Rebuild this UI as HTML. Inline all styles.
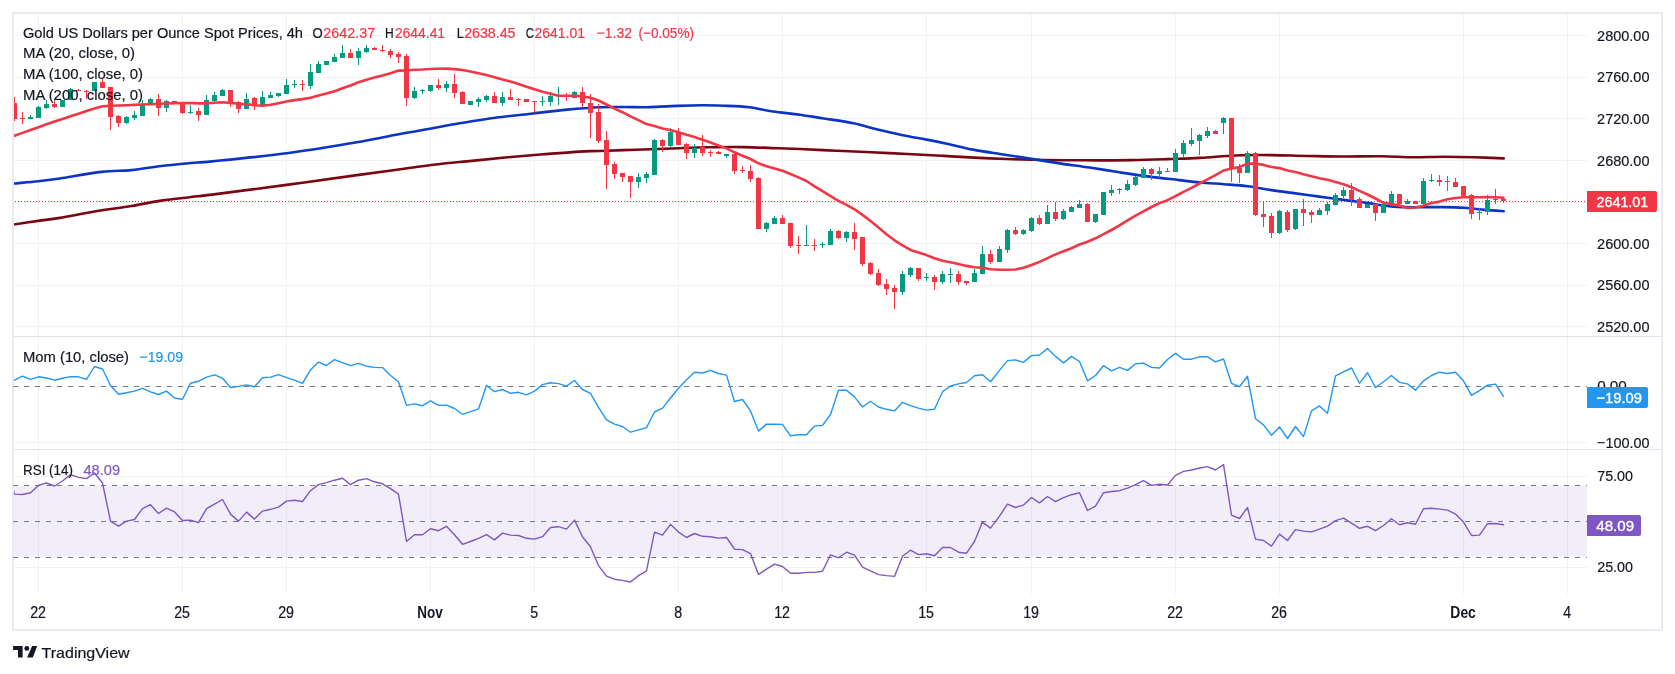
<!DOCTYPE html><html><head><meta charset="utf-8"><title>Gold chart</title><style>html,body{margin:0;padding:0;background:#fff;width:1675px;height:674px;overflow:hidden;position:relative;font-family:"Liberation Sans",sans-serif}</style></head><body><svg width="1675" height="674" viewBox="0 0 1675 674" style="position:absolute;left:0;top:0;will-change:transform">
<rect x="0" y="0" width="1675" height="674" fill="#ffffff"/>
<g fill="#f1f2f4"><rect x="14" y="326" width="1573" height="1"/><rect x="14" y="285" width="1573" height="1"/><rect x="14" y="243" width="1573" height="1"/><rect x="14" y="202" width="1573" height="1"/><rect x="14" y="160" width="1573" height="1"/><rect x="14" y="118" width="1573" height="1"/><rect x="14" y="77" width="1573" height="1"/><rect x="14" y="35" width="1573" height="1"/><rect x="14" y="386" width="1573" height="1"/><rect x="14" y="442" width="1573" height="1"/><rect x="14" y="476" width="1573" height="1"/><rect x="14" y="567" width="1573" height="1"/><rect x="38" y="14" width="1" height="580"/><rect x="182" y="14" width="1" height="580"/><rect x="286" y="14" width="1" height="580"/><rect x="430" y="14" width="1" height="580"/><rect x="534" y="14" width="1" height="580"/><rect x="678" y="14" width="1" height="580"/><rect x="782" y="14" width="1" height="580"/><rect x="926" y="14" width="1" height="580"/><rect x="1031" y="14" width="1" height="580"/><rect x="1175" y="14" width="1" height="580"/><rect x="1279" y="14" width="1" height="580"/><rect x="1463" y="14" width="1" height="580"/><rect x="1567" y="14" width="1" height="580"/></g>
<rect x="14" y="485.5" width="1573" height="72" fill="#7e57c2" fill-opacity="0.1"/>
<g fill="#e0e3eb"><rect x="12" y="12" width="1651" height="2" fill="#e9ebf0"/><rect x="12" y="629" width="1651" height="2" fill="#e9ebf0"/><rect x="12" y="12" width="2" height="619" fill="#e9ebf0"/><rect x="1661" y="12" width="2" height="619" fill="#e9ebf0"/><rect x="14" y="336" width="1647" height="1"/><rect x="14" y="449" width="1647" height="1"/></g>
<line x1="13" y1="386.5" x2="1587" y2="386.5" stroke="#787b86" stroke-width="1" stroke-dasharray="5 6"/>
<line x1="13" y1="485.5" x2="1587" y2="485.5" stroke="#787b86" stroke-width="1" stroke-dasharray="5 6"/>
<line x1="13" y1="521.5" x2="1587" y2="521.5" stroke="#787b86" stroke-width="1" stroke-dasharray="5 6"/>
<line x1="13" y1="557.5" x2="1587" y2="557.5" stroke="#787b86" stroke-width="1" stroke-dasharray="5 6"/>
<line x1="14" y1="201.5" x2="1587" y2="201.5" stroke="#f23645" stroke-width="1" stroke-dasharray="1 2" stroke-dashoffset="2"/>
<defs><clipPath id="cm"><rect x="14" y="14" width="1573" height="322"/></clipPath><clipPath id="cp"><rect x="14" y="337" width="1573" height="112"/></clipPath><clipPath id="cr"><rect x="14" y="450" width="1573" height="144"/></clipPath></defs>
<g clip-path="url(#cm)">
<path d="M13.8,224.5 C17.9,223.9 30.6,222.0 38.3,220.9 C46.0,219.8 50.2,219.5 59.8,217.9 C69.3,216.3 83.7,213.3 95.6,211.3 C107.5,209.3 120.5,207.8 131.4,206.0 C142.4,204.2 151.4,202.1 161.3,200.6 C171.2,199.1 182.7,198.0 191.1,197.0 C199.5,196.0 196.1,196.6 212.0,194.6 C227.9,192.6 262.7,188.1 286.6,184.9 C310.5,181.7 336.3,178.0 355.2,175.4 C374.1,172.8 386.6,171.1 400.0,169.3 C413.4,167.5 423.9,165.9 435.8,164.5 C447.7,163.1 459.7,162.1 471.6,160.9 C483.6,159.7 495.6,158.4 507.5,157.3 C519.5,156.2 531.4,155.2 543.3,154.3 C555.2,153.4 569.6,152.2 579.1,151.6 C588.6,151.0 590.5,151.3 600.0,151.0 C609.5,150.7 623.9,150.1 635.8,149.7 C647.7,149.3 659.6,148.9 671.6,148.5 C683.6,148.1 695.5,147.5 707.5,147.3 C719.5,147.1 731.4,146.9 743.3,147.1 C755.2,147.3 769.6,148.0 779.1,148.3 C788.6,148.6 790.5,148.6 800.0,149.0 C809.5,149.4 823.9,150.2 835.8,150.7 C847.7,151.2 859.6,151.6 871.6,152.2 C883.6,152.8 895.5,153.4 907.5,154.0 C919.5,154.6 931.4,155.2 943.3,155.9 C955.2,156.6 969.6,157.4 979.1,157.9 C988.6,158.4 990.5,158.5 1000.0,158.8 C1009.5,159.1 1021.9,159.6 1035.8,159.8 C1049.7,160.1 1067.7,160.2 1083.6,160.3 C1099.5,160.4 1117.4,160.3 1131.3,160.1 C1145.2,159.9 1155.8,159.5 1167.2,159.1 C1178.7,158.7 1188.6,158.5 1200.0,157.9 C1211.4,157.3 1223.9,156.0 1235.8,155.5 C1247.7,155.0 1259.6,155.0 1271.6,155.1 C1283.5,155.2 1295.5,155.8 1307.5,156.0 C1319.5,156.2 1331.0,156.5 1343.3,156.5 C1355.6,156.5 1369.7,156.1 1381.2,156.2 C1392.7,156.3 1401.9,157.2 1412.3,157.3 C1422.7,157.4 1433.1,156.8 1443.5,156.8 C1453.9,156.8 1464.6,157.0 1474.6,157.3 C1484.6,157.6 1498.8,158.2 1503.7,158.4" fill="none" stroke="#7a0612" stroke-width="2.6" stroke-linejoin="round" stroke-linecap="round"/>
<path d="M13.8,183.5 C17.9,183.1 30.6,182.1 38.3,181.3 C46.0,180.5 49.2,180.1 59.8,178.5 C70.3,176.9 89.7,173.3 101.6,171.9 C113.5,170.5 121.5,171.1 131.4,170.1 C141.4,169.1 151.4,167.2 161.3,166.0 C171.2,164.8 182.7,163.8 191.1,163.0 C199.5,162.2 196.1,163.0 212.0,161.4 C227.9,159.8 262.7,156.5 286.6,153.3 C310.5,150.2 336.3,145.7 355.2,142.5 C374.1,139.3 387.6,136.3 400.0,134.0 C412.4,131.7 419.9,130.5 429.9,128.7 C439.8,126.9 448.8,125.1 459.7,123.3 C470.6,121.5 483.6,119.3 495.5,117.7 C507.4,116.1 519.3,115.1 531.3,113.7 C543.2,112.3 555.8,110.7 567.2,109.6 C578.7,108.5 590.5,107.6 600.0,107.2 C609.5,106.8 615.9,107.0 623.9,107.0 C631.9,107.0 639.8,107.4 647.8,107.2 C655.8,107.0 662.6,106.4 671.6,106.1 C680.6,105.8 692.5,105.3 701.5,105.3 C710.5,105.2 717.4,105.5 725.4,105.8 C733.4,106.1 741.3,106.3 749.3,107.3 C757.2,108.2 764.6,110.3 773.1,111.5 C781.6,112.7 791.5,113.5 800.0,114.7 C808.5,115.9 814.9,117.1 823.9,118.5 C832.9,119.9 844.8,121.5 853.7,123.3 C862.7,125.1 869.6,127.7 877.6,129.6 C885.6,131.5 893.5,133.3 901.5,134.9 C909.5,136.5 917.4,137.9 925.4,139.4 C933.4,140.9 941.3,142.5 949.3,144.2 C957.2,145.9 964.6,148.0 973.1,149.6 C981.6,151.2 990.5,152.5 1000.0,154.0 C1009.5,155.5 1020.0,157.0 1029.9,158.6 C1039.9,160.2 1049.8,161.9 1059.7,163.4 C1069.7,164.9 1079.6,166.0 1089.6,167.5 C1099.5,169.0 1109.5,170.8 1119.4,172.3 C1129.4,173.8 1139.3,175.3 1149.3,176.6 C1159.2,177.9 1170.6,179.1 1179.1,180.1 C1187.5,181.1 1192.5,181.8 1200.0,182.5 C1207.5,183.2 1215.9,183.6 1223.9,184.2 C1231.9,184.8 1239.8,185.2 1247.8,186.2 C1255.8,187.2 1263.6,188.9 1271.6,190.1 C1279.5,191.3 1287.5,192.3 1295.5,193.4 C1303.5,194.5 1311.4,195.5 1319.4,196.6 C1327.4,197.7 1335.3,198.8 1343.3,199.9 C1351.3,201.0 1360.9,202.0 1367.2,202.9 C1373.5,203.8 1375.4,204.5 1381.2,205.2 C1387.0,205.9 1391.5,206.8 1401.9,207.1 C1412.3,207.4 1433.1,207.0 1443.5,207.1 C1453.9,207.2 1457.3,207.3 1464.2,207.8 C1471.1,208.3 1478.4,209.3 1485.0,209.9 C1491.6,210.5 1500.6,211.0 1503.7,211.2" fill="none" stroke="#0a34c4" stroke-width="2.6" stroke-linejoin="round" stroke-linecap="round"/>
<g fill="#089981" shape-rendering="crispEdges"><rect x="30" y="115" width="1" height="4"/><rect x="28" y="117" width="5" height="2"/><rect x="38" y="106" width="1" height="12"/><rect x="36" y="107" width="5" height="11"/><rect x="46" y="100" width="1" height="9"/><rect x="44" y="104" width="5" height="4"/><rect x="62" y="100" width="1" height="7"/><rect x="60" y="100" width="5" height="7"/><rect x="70" y="88" width="1" height="12"/><rect x="68" y="89" width="5" height="11"/><rect x="94" y="82" width="1" height="9"/><rect x="92" y="82" width="5" height="9"/><rect x="126" y="116" width="1" height="8"/><rect x="124" y="117" width="5" height="6"/><rect x="134" y="111" width="1" height="9"/><rect x="132" y="115" width="5" height="3"/><rect x="142" y="100" width="1" height="16"/><rect x="140" y="104" width="5" height="12"/><rect x="150" y="98" width="1" height="7"/><rect x="148" y="99" width="5" height="6"/><rect x="166" y="100" width="1" height="12"/><rect x="164" y="101" width="5" height="7"/><rect x="190" y="105" width="1" height="9"/><rect x="188" y="112" width="5" height="1"/><rect x="206" y="95" width="1" height="20"/><rect x="204" y="100" width="5" height="15"/><rect x="214" y="92" width="1" height="12"/><rect x="212" y="95" width="5" height="6"/><rect x="222" y="89" width="1" height="7"/><rect x="220" y="90" width="5" height="6"/><rect x="246" y="93" width="1" height="16"/><rect x="244" y="99" width="5" height="10"/><rect x="262" y="91" width="1" height="15"/><rect x="260" y="97" width="5" height="9"/><rect x="270" y="92" width="1" height="6"/><rect x="268" y="95" width="5" height="3"/><rect x="278" y="93" width="1" height="4"/><rect x="276" y="93" width="5" height="3"/><rect x="286" y="79" width="1" height="15"/><rect x="284" y="85" width="5" height="9"/><rect x="294" y="80" width="1" height="8"/><rect x="292" y="84" width="5" height="1"/><rect x="310" y="64" width="1" height="25"/><rect x="308" y="72" width="5" height="14"/><rect x="318" y="61" width="1" height="12"/><rect x="316" y="64" width="5" height="9"/><rect x="326" y="61" width="1" height="4"/><rect x="324" y="61" width="5" height="4"/><rect x="334" y="54" width="1" height="8"/><rect x="332" y="57" width="5" height="5"/><rect x="342" y="45" width="1" height="13"/><rect x="340" y="53" width="5" height="5"/><rect x="358" y="48" width="1" height="17"/><rect x="356" y="51" width="5" height="7"/><rect x="366" y="45" width="1" height="8"/><rect x="364" y="48" width="5" height="4"/><rect x="414" y="87" width="1" height="12"/><rect x="412" y="91" width="5" height="7"/><rect x="422" y="89" width="1" height="5"/><rect x="420" y="90" width="5" height="1"/><rect x="430" y="85" width="1" height="7"/><rect x="428" y="85" width="5" height="6"/><rect x="446" y="81" width="1" height="11"/><rect x="444" y="84" width="5" height="4"/><rect x="470" y="101" width="1" height="4"/><rect x="468" y="101" width="5" height="4"/><rect x="478" y="97" width="1" height="10"/><rect x="476" y="99" width="5" height="3"/><rect x="486" y="95" width="1" height="7"/><rect x="484" y="96" width="5" height="4"/><rect x="502" y="92" width="1" height="14"/><rect x="500" y="97" width="5" height="6"/><rect x="542" y="96" width="1" height="10"/><rect x="540" y="101" width="5" height="1"/><rect x="550" y="92" width="1" height="14"/><rect x="548" y="96" width="5" height="6"/><rect x="558" y="87" width="1" height="18"/><rect x="556" y="95" width="5" height="1"/><rect x="574" y="91" width="1" height="7"/><rect x="572" y="92" width="5" height="6"/><rect x="638" y="173" width="1" height="15"/><rect x="636" y="177" width="5" height="5"/><rect x="646" y="172" width="1" height="11"/><rect x="644" y="174" width="5" height="4"/><rect x="654" y="139" width="1" height="36"/><rect x="652" y="140" width="5" height="35"/><rect x="670" y="128" width="1" height="19"/><rect x="668" y="132" width="5" height="14"/><rect x="694" y="144" width="1" height="14"/><rect x="692" y="148" width="5" height="5"/><rect x="726" y="154" width="1" height="4"/><rect x="724" y="154" width="5" height="2"/><rect x="766" y="222" width="1" height="10"/><rect x="764" y="223" width="5" height="6"/><rect x="774" y="216" width="1" height="8"/><rect x="772" y="218" width="5" height="6"/><rect x="806" y="225" width="1" height="21"/><rect x="804" y="245" width="5" height="1"/><rect x="822" y="242" width="1" height="6"/><rect x="820" y="244" width="5" height="1"/><rect x="830" y="229" width="1" height="16"/><rect x="828" y="231" width="5" height="14"/><rect x="846" y="231" width="1" height="11"/><rect x="844" y="232" width="5" height="6"/><rect x="902" y="271" width="1" height="24"/><rect x="900" y="274" width="5" height="18"/><rect x="910" y="267" width="1" height="10"/><rect x="908" y="268" width="5" height="7"/><rect x="926" y="273" width="1" height="8"/><rect x="924" y="277" width="5" height="1"/><rect x="942" y="271" width="1" height="13"/><rect x="940" y="274" width="5" height="8"/><rect x="950" y="268" width="1" height="15"/><rect x="948" y="274" width="5" height="1"/><rect x="974" y="269" width="1" height="13"/><rect x="972" y="273" width="5" height="9"/><rect x="982" y="246" width="1" height="28"/><rect x="980" y="254" width="5" height="20"/><rect x="999" y="246" width="1" height="16"/><rect x="997" y="249" width="5" height="13"/><rect x="1007" y="229" width="1" height="24"/><rect x="1005" y="230" width="5" height="20"/><rect x="1023" y="229" width="1" height="6"/><rect x="1021" y="230" width="5" height="4"/><rect x="1031" y="217" width="1" height="15"/><rect x="1029" y="218" width="5" height="13"/><rect x="1047" y="205" width="1" height="19"/><rect x="1045" y="212" width="5" height="12"/><rect x="1063" y="209" width="1" height="11"/><rect x="1061" y="211" width="5" height="8"/><rect x="1071" y="206" width="1" height="6"/><rect x="1069" y="207" width="5" height="5"/><rect x="1079" y="200" width="1" height="8"/><rect x="1077" y="204" width="5" height="4"/><rect x="1095" y="214" width="1" height="9"/><rect x="1093" y="214" width="5" height="8"/><rect x="1103" y="192" width="1" height="23"/><rect x="1101" y="192" width="5" height="23"/><rect x="1111" y="185" width="1" height="11"/><rect x="1109" y="190" width="5" height="3"/><rect x="1119" y="188" width="1" height="6"/><rect x="1117" y="189" width="5" height="1"/><rect x="1127" y="180" width="1" height="11"/><rect x="1125" y="184" width="5" height="6"/><rect x="1135" y="176" width="1" height="10"/><rect x="1133" y="177" width="5" height="8"/><rect x="1143" y="167" width="1" height="11"/><rect x="1141" y="169" width="5" height="9"/><rect x="1159" y="167" width="1" height="11"/><rect x="1157" y="171" width="5" height="3"/><rect x="1175" y="149" width="1" height="23"/><rect x="1173" y="153" width="5" height="19"/><rect x="1183" y="140" width="1" height="17"/><rect x="1181" y="143" width="5" height="11"/><rect x="1191" y="128" width="1" height="18"/><rect x="1189" y="140" width="5" height="4"/><rect x="1199" y="134" width="1" height="21"/><rect x="1197" y="135" width="5" height="6"/><rect x="1207" y="127" width="1" height="11"/><rect x="1205" y="131" width="5" height="5"/><rect x="1223" y="117" width="1" height="17"/><rect x="1221" y="118" width="5" height="5"/><rect x="1247" y="151" width="1" height="22"/><rect x="1245" y="153" width="5" height="20"/><rect x="1279" y="210" width="1" height="24"/><rect x="1277" y="211" width="5" height="22"/><rect x="1295" y="209" width="1" height="21"/><rect x="1293" y="209" width="5" height="20"/><rect x="1319" y="208" width="1" height="7"/><rect x="1317" y="210" width="5" height="5"/><rect x="1327" y="202" width="1" height="13"/><rect x="1325" y="204" width="5" height="7"/><rect x="1335" y="193" width="1" height="12"/><rect x="1333" y="195" width="5" height="10"/><rect x="1343" y="187" width="1" height="11"/><rect x="1341" y="190" width="5" height="6"/><rect x="1367" y="204" width="1" height="4"/><rect x="1365" y="204" width="5" height="4"/><rect x="1383" y="202" width="1" height="11"/><rect x="1381" y="204" width="5" height="9"/><rect x="1391" y="191" width="1" height="15"/><rect x="1389" y="194" width="5" height="11"/><rect x="1407" y="199" width="1" height="5"/><rect x="1405" y="201" width="5" height="3"/><rect x="1423" y="178" width="1" height="29"/><rect x="1421" y="181" width="5" height="23"/><rect x="1431" y="174" width="1" height="8"/><rect x="1429" y="180" width="5" height="1"/><rect x="1479" y="208" width="1" height="12"/><rect x="1477" y="212" width="5" height="1"/><rect x="1487" y="195" width="1" height="20"/><rect x="1485" y="200" width="5" height="12"/><rect x="1495" y="189" width="1" height="15"/><rect x="1493" y="199" width="5" height="1"/></g>
<g fill="#f23645" shape-rendering="crispEdges"><rect x="14" y="97" width="1" height="24"/><rect x="12" y="103" width="5" height="16"/><rect x="22" y="112" width="1" height="12"/><rect x="20" y="118" width="5" height="1"/><rect x="54" y="100" width="1" height="8"/><rect x="52" y="104" width="5" height="3"/><rect x="78" y="89" width="1" height="2"/><rect x="76" y="90" width="5" height="1"/><rect x="86" y="90" width="1" height="9"/><rect x="84" y="91" width="5" height="1"/><rect x="102" y="79" width="1" height="9"/><rect x="100" y="82" width="5" height="6"/><rect x="110" y="87" width="1" height="43"/><rect x="108" y="87" width="5" height="30"/><rect x="118" y="115" width="1" height="12"/><rect x="116" y="116" width="5" height="7"/><rect x="158" y="94" width="1" height="22"/><rect x="156" y="99" width="5" height="9"/><rect x="174" y="101" width="1" height="2"/><rect x="172" y="101" width="5" height="2"/><rect x="182" y="102" width="1" height="12"/><rect x="180" y="103" width="5" height="10"/><rect x="198" y="108" width="1" height="13"/><rect x="196" y="111" width="5" height="4"/><rect x="230" y="90" width="1" height="17"/><rect x="228" y="90" width="5" height="12"/><rect x="238" y="101" width="1" height="12"/><rect x="236" y="102" width="5" height="7"/><rect x="254" y="97" width="1" height="13"/><rect x="252" y="98" width="5" height="7"/><rect x="302" y="80" width="1" height="11"/><rect x="300" y="84" width="5" height="1"/><rect x="350" y="49" width="1" height="9"/><rect x="348" y="53" width="5" height="5"/><rect x="374" y="47" width="1" height="3"/><rect x="372" y="48" width="5" height="2"/><rect x="382" y="45" width="1" height="7"/><rect x="380" y="50" width="5" height="1"/><rect x="390" y="49" width="1" height="9"/><rect x="388" y="51" width="5" height="4"/><rect x="398" y="52" width="1" height="11"/><rect x="396" y="54" width="5" height="3"/><rect x="406" y="54" width="1" height="52"/><rect x="404" y="56" width="5" height="42"/><rect x="438" y="79" width="1" height="11"/><rect x="436" y="85" width="5" height="3"/><rect x="454" y="74" width="1" height="24"/><rect x="452" y="84" width="5" height="9"/><rect x="462" y="91" width="1" height="13"/><rect x="460" y="92" width="5" height="12"/><rect x="494" y="92" width="1" height="11"/><rect x="492" y="96" width="5" height="7"/><rect x="510" y="89" width="1" height="11"/><rect x="508" y="97" width="5" height="3"/><rect x="518" y="98" width="1" height="8"/><rect x="516" y="99" width="5" height="1"/><rect x="526" y="99" width="1" height="3"/><rect x="524" y="99" width="5" height="3"/><rect x="534" y="101" width="1" height="12"/><rect x="532" y="101" width="5" height="1"/><rect x="566" y="93" width="1" height="8"/><rect x="564" y="96" width="5" height="1"/><rect x="582" y="87" width="1" height="20"/><rect x="580" y="92" width="5" height="11"/><rect x="590" y="94" width="1" height="44"/><rect x="588" y="103" width="5" height="10"/><rect x="598" y="104" width="1" height="39"/><rect x="596" y="112" width="5" height="29"/><rect x="606" y="131" width="1" height="58"/><rect x="604" y="140" width="5" height="25"/><rect x="614" y="162" width="1" height="17"/><rect x="612" y="164" width="5" height="10"/><rect x="622" y="173" width="1" height="9"/><rect x="620" y="173" width="5" height="4"/><rect x="630" y="176" width="1" height="22"/><rect x="628" y="176" width="5" height="6"/><rect x="662" y="139" width="1" height="13"/><rect x="660" y="140" width="5" height="6"/><rect x="678" y="128" width="1" height="17"/><rect x="676" y="133" width="5" height="12"/><rect x="686" y="143" width="1" height="16"/><rect x="684" y="144" width="5" height="9"/><rect x="702" y="135" width="1" height="21"/><rect x="700" y="147" width="5" height="6"/><rect x="710" y="150" width="1" height="7"/><rect x="708" y="152" width="5" height="1"/><rect x="718" y="151" width="1" height="3"/><rect x="716" y="152" width="5" height="2"/><rect x="734" y="153" width="1" height="21"/><rect x="732" y="154" width="5" height="17"/><rect x="742" y="166" width="1" height="7"/><rect x="740" y="170" width="5" height="1"/><rect x="750" y="165" width="1" height="17"/><rect x="748" y="171" width="5" height="8"/><rect x="758" y="177" width="1" height="52"/><rect x="756" y="178" width="5" height="51"/><rect x="782" y="215" width="1" height="9"/><rect x="780" y="218" width="5" height="6"/><rect x="790" y="223" width="1" height="25"/><rect x="788" y="223" width="5" height="23"/><rect x="798" y="236" width="1" height="18"/><rect x="796" y="245" width="5" height="1"/><rect x="814" y="239" width="1" height="12"/><rect x="812" y="245" width="5" height="1"/><rect x="838" y="230" width="1" height="9"/><rect x="836" y="231" width="5" height="7"/><rect x="854" y="223" width="1" height="27"/><rect x="852" y="232" width="5" height="7"/><rect x="862" y="237" width="1" height="29"/><rect x="860" y="237" width="5" height="27"/><rect x="870" y="262" width="1" height="13"/><rect x="868" y="263" width="5" height="11"/><rect x="878" y="269" width="1" height="17"/><rect x="876" y="273" width="5" height="12"/><rect x="886" y="279" width="1" height="16"/><rect x="884" y="284" width="5" height="5"/><rect x="894" y="285" width="1" height="24"/><rect x="892" y="288" width="5" height="4"/><rect x="918" y="268" width="1" height="13"/><rect x="916" y="268" width="5" height="11"/><rect x="934" y="275" width="1" height="15"/><rect x="932" y="277" width="5" height="5"/><rect x="958" y="271" width="1" height="14"/><rect x="956" y="274" width="5" height="8"/><rect x="966" y="281" width="1" height="4"/><rect x="964" y="281" width="5" height="2"/><rect x="990" y="250" width="1" height="14"/><rect x="988" y="254" width="5" height="8"/><rect x="1015" y="227" width="1" height="8"/><rect x="1013" y="230" width="5" height="4"/><rect x="1039" y="215" width="1" height="10"/><rect x="1037" y="218" width="5" height="6"/><rect x="1055" y="202" width="1" height="19"/><rect x="1053" y="212" width="5" height="7"/><rect x="1087" y="203" width="1" height="19"/><rect x="1085" y="204" width="5" height="18"/><rect x="1151" y="168" width="1" height="12"/><rect x="1149" y="169" width="5" height="5"/><rect x="1167" y="168" width="1" height="4"/><rect x="1165" y="171" width="5" height="1"/><rect x="1215" y="130" width="1" height="4"/><rect x="1213" y="131" width="5" height="3"/><rect x="1231" y="118" width="1" height="64"/><rect x="1229" y="118" width="5" height="50"/><rect x="1239" y="164" width="1" height="19"/><rect x="1237" y="168" width="5" height="5"/><rect x="1255" y="152" width="1" height="64"/><rect x="1253" y="153" width="5" height="62"/><rect x="1263" y="202" width="1" height="25"/><rect x="1261" y="214" width="5" height="3"/><rect x="1271" y="213" width="1" height="25"/><rect x="1269" y="216" width="5" height="17"/><rect x="1287" y="210" width="1" height="22"/><rect x="1285" y="212" width="5" height="18"/><rect x="1303" y="199" width="1" height="27"/><rect x="1301" y="209" width="5" height="4"/><rect x="1311" y="210" width="1" height="13"/><rect x="1309" y="212" width="5" height="3"/><rect x="1351" y="183" width="1" height="23"/><rect x="1349" y="190" width="5" height="10"/><rect x="1359" y="197" width="1" height="11"/><rect x="1357" y="199" width="5" height="9"/><rect x="1375" y="204" width="1" height="17"/><rect x="1373" y="204" width="5" height="9"/><rect x="1399" y="194" width="1" height="11"/><rect x="1397" y="194" width="5" height="10"/><rect x="1415" y="201" width="1" height="3"/><rect x="1413" y="201" width="5" height="3"/><rect x="1439" y="175" width="1" height="11"/><rect x="1437" y="180" width="5" height="2"/><rect x="1447" y="176" width="1" height="15"/><rect x="1445" y="181" width="5" height="1"/><rect x="1455" y="178" width="1" height="9"/><rect x="1453" y="182" width="5" height="5"/><rect x="1463" y="186" width="1" height="10"/><rect x="1461" y="186" width="5" height="10"/><rect x="1471" y="194" width="1" height="25"/><rect x="1469" y="195" width="5" height="19"/><rect x="1503" y="197" width="1" height="6"/><rect x="1501" y="199" width="5" height="2"/></g>
<polyline points="13.0,136.3 14.5,135.8 22.5,132.9 30.5,130.1 38.5,127.2 46.5,124.3 54.5,121.5 62.5,118.9 70.5,116.3 78.5,113.7 86.5,111.0 94.5,108.4 102.5,106.2 110.5,105.8 118.5,105.5 126.5,105.2 134.5,104.9 142.5,104.5 150.5,104.2 158.5,103.8 166.5,103.5 174.5,103.3 182.5,103.1 190.5,103.0 198.5,103.4 206.5,103.4 214.5,102.8 222.5,102.3 230.5,102.9 238.5,103.8 246.5,104.2 254.5,105.3 262.5,105.8 270.5,104.7 278.5,103.2 286.5,101.6 294.5,100.1 302.5,99.1 310.5,97.8 318.5,95.6 326.5,93.6 334.5,91.2 342.5,88.3 350.5,85.5 358.5,82.3 366.5,79.7 374.5,77.5 382.5,75.5 390.5,73.2 398.5,70.6 406.5,70.5 414.5,69.8 422.5,69.5 430.5,69.0 438.5,68.7 446.5,68.6 454.5,69.1 462.5,70.0 470.5,71.5 478.5,73.3 486.5,75.0 494.5,77.3 502.5,79.5 510.5,81.6 518.5,84.0 526.5,86.7 534.5,89.3 542.5,91.8 550.5,93.8 558.5,95.7 566.5,95.7 574.5,95.8 582.5,96.4 590.5,97.8 598.5,100.5 606.5,104.5 614.5,108.6 622.5,112.2 630.5,116.3 638.5,120.2 646.5,124.1 654.5,126.0 662.5,128.4 670.5,130.0 678.5,132.3 686.5,134.8 694.5,137.1 702.5,139.7 710.5,142.5 718.5,145.5 726.5,148.4 734.5,152.3 742.5,155.7 750.5,159.0 758.5,163.3 766.5,166.3 774.5,168.5 782.5,170.8 790.5,174.0 798.5,177.4 806.5,181.0 814.5,186.3 822.5,191.2 830.5,196.1 838.5,200.8 846.5,204.8 854.5,209.3 862.5,214.9 870.5,221.0 878.5,227.5 886.5,234.2 894.5,240.3 902.5,245.4 910.5,249.9 918.5,252.4 926.5,255.1 934.5,258.3 942.5,260.8 950.5,262.2 958.5,264.0 966.5,265.9 974.5,267.3 982.5,267.8 990.5,269.3 999.5,269.8 1007.5,269.7 1015.5,269.5 1023.5,267.8 1031.5,265.0 1039.5,261.9 1047.5,258.1 1055.5,254.4 1063.5,251.3 1071.5,248.2 1079.5,244.5 1087.5,241.7 1095.5,238.3 1103.5,234.2 1111.5,230.0 1119.5,225.4 1127.5,220.4 1135.5,215.7 1143.5,211.4 1151.5,207.0 1159.5,203.1 1167.5,200.2 1175.5,196.2 1183.5,191.8 1191.5,187.9 1199.5,183.5 1207.5,179.4 1215.5,175.2 1223.5,170.5 1231.5,168.6 1239.5,167.0 1247.5,163.6 1255.5,163.6 1263.5,164.9 1271.5,167.0 1279.5,168.1 1287.5,170.4 1295.5,172.0 1303.5,174.2 1311.5,176.2 1319.5,178.2 1327.5,179.8 1335.5,181.9 1343.5,184.2 1351.5,187.2 1359.5,190.9 1367.5,194.5 1375.5,198.5 1383.5,202.8 1391.5,204.1 1399.5,205.6 1407.5,208.0 1415.5,207.5 1423.5,205.7 1431.5,203.0 1439.5,201.6 1447.5,199.2 1455.5,198.0 1463.5,197.2 1471.5,197.2 1479.5,197.2 1487.5,197.1 1495.5,197.3 1503.5,197.8" fill="none" stroke="#f23645" stroke-width="2.6" stroke-linejoin="round" stroke-linecap="round"/>
</g>
<g clip-path="url(#cp)"><polyline points="14.5,380.2 22.5,376.1 30.5,379.3 38.5,376.8 46.5,378.0 54.5,380.2 62.5,378.2 70.5,376.6 78.5,376.8 86.5,379.3 94.5,366.5 102.5,369.0 110.5,385.5 118.5,394.2 126.5,392.7 134.5,391.1 142.5,388.3 150.5,391.9 158.5,394.5 166.5,391.1 174.5,398.0 182.5,399.2 190.5,383.3 198.5,381.3 206.5,377.1 214.5,374.9 222.5,378.2 230.5,387.5 238.5,386.4 246.5,384.9 254.5,386.7 262.5,377.7 270.5,377.1 278.5,374.6 286.5,377.7 294.5,380.2 302.5,383.3 310.5,369.9 318.5,362.1 326.5,365.5 334.5,359.6 342.5,362.7 350.5,365.7 358.5,363.4 366.5,366.2 374.5,367.4 382.5,367.6 390.5,375.5 398.5,381.8 406.5,405.4 414.5,403.9 422.5,405.7 430.5,400.8 438.5,405.4 446.5,405.1 454.5,408.5 462.5,414.3 470.5,411.7 478.5,408.9 486.5,385.5 494.5,391.7 502.5,389.5 510.5,393.3 518.5,392.3 526.5,394.8 534.5,391.1 542.5,384.6 550.5,382.7 558.5,383.6 566.5,386.1 574.5,380.5 582.5,389.5 590.5,393.3 598.5,407.3 606.5,419.8 614.5,424.1 622.5,426.5 630.5,432.2 638.5,429.9 646.5,427.6 654.5,412.0 662.5,408.1 670.5,398.0 678.5,388.3 686.5,379.7 694.5,372.2 702.5,373.0 710.5,370.4 718.5,373.5 726.5,375.1 734.5,401.5 742.5,399.5 750.5,410.9 758.5,431.1 766.5,424.1 774.5,424.2 782.5,424.4 790.5,435.8 798.5,434.7 806.5,434.7 814.5,426.1 822.5,425.4 830.5,414.5 838.5,390.3 846.5,390.3 854.5,396.9 862.5,407.0 870.5,401.2 878.5,407.0 886.5,409.3 894.5,410.9 902.5,402.3 910.5,405.7 918.5,408.1 926.5,410.1 934.5,409.3 942.5,391.7 950.5,386.0 958.5,383.9 966.5,382.5 974.5,375.8 982.5,374.7 990.5,381.8 999.5,370.4 1007.5,360.6 1015.5,359.9 1023.5,362.3 1031.5,355.6 1039.5,355.0 1047.5,348.6 1055.5,356.4 1063.5,362.9 1071.5,356.4 1079.5,361.5 1087.5,380.8 1095.5,375.5 1103.5,365.7 1111.5,370.8 1119.5,367.4 1127.5,370.4 1135.5,363.7 1143.5,363.1 1151.5,367.4 1159.5,368.0 1167.5,359.5 1175.5,353.4 1183.5,359.3 1191.5,359.2 1199.5,356.8 1207.5,356.8 1215.5,361.8 1223.5,359.0 1231.5,383.3 1239.5,386.7 1247.5,376.3 1255.5,418.7 1263.5,424.9 1271.5,435.3 1279.5,426.9 1287.5,438.5 1295.5,426.5 1303.5,436.6 1311.5,410.9 1319.5,405.9 1327.5,413.2 1335.5,375.8 1343.5,371.9 1351.5,368.0 1359.5,383.3 1367.5,372.7 1375.5,387.5 1383.5,381.8 1391.5,375.5 1399.5,382.4 1407.5,383.9 1415.5,390.2 1423.5,380.8 1431.5,375.5 1439.5,372.2 1447.5,373.5 1455.5,372.2 1463.5,380.8 1471.5,395.3 1479.5,390.6 1487.5,385.2 1495.5,384.1 1503.5,396.4" fill="none" stroke="#2196f3" stroke-width="1.4" stroke-linejoin="round" stroke-linecap="round"/></g>
<g clip-path="url(#cr)"><polyline points="6.5,468.0 14.5,494.1 22.5,494.5 30.5,492.7 38.5,485.4 46.5,483.0 54.5,486.0 62.5,481.0 70.5,474.6 78.5,477.4 86.5,478.6 94.5,473.0 102.5,483.0 110.5,521.1 118.5,526.1 126.5,521.1 134.5,519.5 142.5,508.7 150.5,504.7 158.5,513.5 166.5,508.1 174.5,511.9 182.5,520.5 190.5,520.1 198.5,522.7 206.5,508.7 214.5,504.1 222.5,499.5 230.5,514.1 238.5,521.1 246.5,512.1 254.5,519.1 262.5,511.1 270.5,509.3 278.5,507.1 286.5,501.1 294.5,500.3 302.5,501.5 310.5,490.7 318.5,484.6 326.5,482.6 334.5,480.2 342.5,478.2 350.5,484.6 358.5,480.2 366.5,478.6 374.5,481.8 382.5,483.8 390.5,488.7 398.5,494.1 406.5,541.5 414.5,534.7 422.5,534.7 430.5,528.7 438.5,530.7 446.5,526.3 454.5,534.7 462.5,544.3 470.5,541.5 478.5,538.3 486.5,534.7 494.5,539.9 502.5,533.1 510.5,535.1 518.5,535.5 526.5,538.3 534.5,539.1 542.5,536.7 550.5,527.5 558.5,526.7 566.5,529.1 574.5,520.1 582.5,536.7 590.5,546.7 598.5,565.6 606.5,576.2 614.5,579.2 622.5,580.4 630.5,582.0 638.5,575.6 646.5,570.8 654.5,532.1 662.5,535.1 670.5,524.3 678.5,532.1 686.5,537.5 694.5,533.5 702.5,536.3 710.5,536.7 718.5,538.1 726.5,537.5 734.5,549.2 742.5,549.6 750.5,553.6 758.5,574.4 766.5,569.2 774.5,564.2 782.5,566.5 790.5,573.2 798.5,573.2 806.5,572.4 814.5,572.4 822.5,571.2 830.5,554.8 838.5,557.8 846.5,552.2 854.5,555.2 862.5,567.2 870.5,570.8 878.5,574.6 886.5,575.6 894.5,576.4 902.5,556.2 910.5,550.2 918.5,554.6 926.5,553.8 934.5,555.8 942.5,547.5 950.5,547.5 958.5,552.2 966.5,553.2 974.5,541.5 982.5,522.1 990.5,528.1 999.5,516.1 1007.5,504.1 1015.5,507.5 1023.5,505.1 1031.5,497.5 1039.5,502.9 1047.5,496.5 1055.5,501.7 1063.5,497.7 1071.5,494.7 1079.5,492.7 1087.5,510.5 1095.5,506.1 1103.5,492.7 1111.5,491.5 1119.5,490.7 1127.5,488.1 1135.5,484.6 1143.5,480.6 1151.5,485.4 1159.5,484.2 1167.5,485.0 1175.5,475.4 1183.5,471.4 1191.5,470.0 1199.5,468.0 1207.5,466.6 1215.5,470.0 1223.5,464.6 1231.5,515.1 1239.5,518.5 1247.5,507.5 1255.5,539.1 1263.5,540.5 1271.5,546.1 1279.5,534.1 1287.5,540.5 1295.5,529.6 1303.5,531.1 1311.5,531.9 1319.5,529.1 1327.5,526.1 1335.5,520.7 1343.5,518.1 1351.5,523.1 1359.5,528.3 1367.5,526.3 1375.5,530.7 1383.5,525.5 1391.5,518.7 1399.5,524.7 1407.5,522.7 1415.5,524.3 1423.5,508.7 1431.5,508.3 1439.5,509.1 1447.5,510.1 1455.5,514.1 1463.5,522.1 1471.5,535.5 1479.5,535.1 1487.5,523.7 1495.5,523.5 1503.5,524.7" fill="none" stroke="#7e57c2" stroke-width="1.4" stroke-linejoin="round" stroke-linecap="round"/></g>
<text x="1649.5" y="40.8" font-family="Liberation Sans, sans-serif" font-size="15.3" fill="#131722" text-anchor="end" font-weight="normal" stroke="#131722" stroke-width="0.2" textLength="52.4" lengthAdjust="spacingAndGlyphs">2800.00</text>
<text x="1649.5" y="82.37142857142857" font-family="Liberation Sans, sans-serif" font-size="15.3" fill="#131722" text-anchor="end" font-weight="normal" stroke="#131722" stroke-width="0.2" textLength="52.4" lengthAdjust="spacingAndGlyphs">2760.00</text>
<text x="1649.5" y="123.94285714285714" font-family="Liberation Sans, sans-serif" font-size="15.3" fill="#131722" text-anchor="end" font-weight="normal" stroke="#131722" stroke-width="0.2" textLength="52.4" lengthAdjust="spacingAndGlyphs">2720.00</text>
<text x="1649.5" y="165.51428571428573" font-family="Liberation Sans, sans-serif" font-size="15.3" fill="#131722" text-anchor="end" font-weight="normal" stroke="#131722" stroke-width="0.2" textLength="52.4" lengthAdjust="spacingAndGlyphs">2680.00</text>
<text x="1649.5" y="248.65714285714287" font-family="Liberation Sans, sans-serif" font-size="15.3" fill="#131722" text-anchor="end" font-weight="normal" stroke="#131722" stroke-width="0.2" textLength="52.4" lengthAdjust="spacingAndGlyphs">2600.00</text>
<text x="1649.5" y="290.22857142857146" font-family="Liberation Sans, sans-serif" font-size="15.3" fill="#131722" text-anchor="end" font-weight="normal" stroke="#131722" stroke-width="0.2" textLength="52.4" lengthAdjust="spacingAndGlyphs">2560.00</text>
<text x="1649.5" y="331.8" font-family="Liberation Sans, sans-serif" font-size="15.3" fill="#131722" text-anchor="end" font-weight="normal" stroke="#131722" stroke-width="0.2" textLength="52.4" lengthAdjust="spacingAndGlyphs">2520.00</text>
<text x="1626.8" y="391.4" font-family="Liberation Sans, sans-serif" font-size="15.3" fill="#131722" text-anchor="end" font-weight="normal" stroke="#131722" stroke-width="0.2" textLength="29.6" lengthAdjust="spacingAndGlyphs">0.00</text>
<text x="1649.5" y="447.9" font-family="Liberation Sans, sans-serif" font-size="15.3" fill="#131722" text-anchor="end" font-weight="normal" stroke="#131722" stroke-width="0.2" textLength="52.4" lengthAdjust="spacingAndGlyphs">−100.00</text>
<text x="1633" y="481.4" font-family="Liberation Sans, sans-serif" font-size="15.3" fill="#131722" text-anchor="end" font-weight="normal" stroke="#131722" stroke-width="0.2" textLength="35.8" lengthAdjust="spacingAndGlyphs">75.00</text>
<text x="1633" y="572.4" font-family="Liberation Sans, sans-serif" font-size="15.3" fill="#131722" text-anchor="end" font-weight="normal" stroke="#131722" stroke-width="0.2" textLength="35.8" lengthAdjust="spacingAndGlyphs">25.00</text>
<path d="M1587,191 H1655 Q1657,191 1657,193 V210 Q1657,212 1655,212 H1587 Z" fill="#f23645"/>
<text x="1596.6" y="207.0" font-family="Liberation Sans, sans-serif" font-size="15" fill="#ffffff" stroke="#ffffff" stroke-width="0.35" textLength="51.6" lengthAdjust="spacingAndGlyphs">2641.01</text>
<path d="M1587,387 H1646 Q1648,387 1648,389 V406 Q1648,408 1646,408 H1587 Z" fill="#2196f3"/>
<text x="1596.4" y="402.9" font-family="Liberation Sans, sans-serif" font-size="15" fill="#ffffff" stroke="#ffffff" stroke-width="0.35" textLength="45.6" lengthAdjust="spacingAndGlyphs">−19.09</text>
<path d="M1587,515 H1639 Q1641,515 1641,517 V534 Q1641,536 1639,536 H1587 Z" fill="#7e57c2"/>
<text x="1596.3" y="531.0" font-family="Liberation Sans, sans-serif" font-size="15" fill="#ffffff" stroke="#ffffff" stroke-width="0.35" textLength="37.8" lengthAdjust="spacingAndGlyphs">48.09</text>
<text x="38.1" y="618" font-family="Liberation Sans, sans-serif" font-size="16" fill="#131722" text-anchor="middle" font-weight="normal" stroke="#131722" stroke-width="0.2" textLength="15.8" lengthAdjust="spacingAndGlyphs">22</text>
<text x="182.1" y="618" font-family="Liberation Sans, sans-serif" font-size="16" fill="#131722" text-anchor="middle" font-weight="normal" stroke="#131722" stroke-width="0.2" textLength="15.8" lengthAdjust="spacingAndGlyphs">25</text>
<text x="286.1" y="618" font-family="Liberation Sans, sans-serif" font-size="16" fill="#131722" text-anchor="middle" font-weight="normal" stroke="#131722" stroke-width="0.2" textLength="15.8" lengthAdjust="spacingAndGlyphs">29</text>
<text x="430.1" y="618" font-family="Liberation Sans, sans-serif" font-size="16" fill="#131722" text-anchor="middle" font-weight="bold" textLength="25.5" lengthAdjust="spacingAndGlyphs">Nov</text>
<text x="534.1" y="618" font-family="Liberation Sans, sans-serif" font-size="16" fill="#131722" text-anchor="middle" font-weight="normal" stroke="#131722" stroke-width="0.2" textLength="7.9" lengthAdjust="spacingAndGlyphs">5</text>
<text x="678.1" y="618" font-family="Liberation Sans, sans-serif" font-size="16" fill="#131722" text-anchor="middle" font-weight="normal" stroke="#131722" stroke-width="0.2" textLength="7.9" lengthAdjust="spacingAndGlyphs">8</text>
<text x="782.1" y="618" font-family="Liberation Sans, sans-serif" font-size="16" fill="#131722" text-anchor="middle" font-weight="normal" stroke="#131722" stroke-width="0.2" textLength="15.8" lengthAdjust="spacingAndGlyphs">12</text>
<text x="926.1" y="618" font-family="Liberation Sans, sans-serif" font-size="16" fill="#131722" text-anchor="middle" font-weight="normal" stroke="#131722" stroke-width="0.2" textLength="15.8" lengthAdjust="spacingAndGlyphs">15</text>
<text x="1031.1" y="618" font-family="Liberation Sans, sans-serif" font-size="16" fill="#131722" text-anchor="middle" font-weight="normal" stroke="#131722" stroke-width="0.2" textLength="15.8" lengthAdjust="spacingAndGlyphs">19</text>
<text x="1175.1" y="618" font-family="Liberation Sans, sans-serif" font-size="16" fill="#131722" text-anchor="middle" font-weight="normal" stroke="#131722" stroke-width="0.2" textLength="15.8" lengthAdjust="spacingAndGlyphs">22</text>
<text x="1279.1" y="618" font-family="Liberation Sans, sans-serif" font-size="16" fill="#131722" text-anchor="middle" font-weight="normal" stroke="#131722" stroke-width="0.2" textLength="15.8" lengthAdjust="spacingAndGlyphs">26</text>
<text x="1463.1" y="618" font-family="Liberation Sans, sans-serif" font-size="16" fill="#131722" text-anchor="middle" font-weight="bold" textLength="25.5" lengthAdjust="spacingAndGlyphs">Dec</text>
<text x="1567.1" y="618" font-family="Liberation Sans, sans-serif" font-size="16" fill="#131722" text-anchor="middle" font-weight="normal" stroke="#131722" stroke-width="0.2" textLength="7.9" lengthAdjust="spacingAndGlyphs">4</text>
<text x="23" y="37.5" font-family="Liberation Sans, sans-serif" font-size="15" fill="#131722" text-anchor="start" font-weight="normal" stroke="#131722" stroke-width="0.2" textLength="280" lengthAdjust="spacingAndGlyphs">Gold US Dollars per Ounce Spot Prices, 4h</text>
<text x="312.5" y="37.5" font-family="Liberation Sans, sans-serif" font-size="15" fill="#131722" text-anchor="start" font-weight="normal" stroke="#131722" stroke-width="0.2" textLength="10.2" lengthAdjust="spacingAndGlyphs">O</text>
<text x="323.3" y="37.5" font-family="Liberation Sans, sans-serif" font-size="15" fill="#f23645" text-anchor="start" font-weight="normal" stroke="#f23645" stroke-width="0.2" textLength="51.9" lengthAdjust="spacingAndGlyphs">2642.37</text>
<text x="385" y="37.5" font-family="Liberation Sans, sans-serif" font-size="15" fill="#131722" text-anchor="start" font-weight="normal" stroke="#131722" stroke-width="0.2" textLength="8.7" lengthAdjust="spacingAndGlyphs">H</text>
<text x="394.9" y="37.5" font-family="Liberation Sans, sans-serif" font-size="15" fill="#f23645" text-anchor="start" font-weight="normal" stroke="#f23645" stroke-width="0.2" textLength="50.2" lengthAdjust="spacingAndGlyphs">2644.41</text>
<text x="456.7" y="37.5" font-family="Liberation Sans, sans-serif" font-size="15" fill="#131722" text-anchor="start" font-weight="normal" stroke="#131722" stroke-width="0.2" textLength="7.2" lengthAdjust="spacingAndGlyphs">L</text>
<text x="464.2" y="37.5" font-family="Liberation Sans, sans-serif" font-size="15" fill="#f23645" text-anchor="start" font-weight="normal" stroke="#f23645" stroke-width="0.2" textLength="51.3" lengthAdjust="spacingAndGlyphs">2638.45</text>
<text x="525.7" y="37.5" font-family="Liberation Sans, sans-serif" font-size="15" fill="#131722" text-anchor="start" font-weight="normal" stroke="#131722" stroke-width="0.2" textLength="8.3" lengthAdjust="spacingAndGlyphs">C</text>
<text x="534.6" y="37.5" font-family="Liberation Sans, sans-serif" font-size="15" fill="#f23645" text-anchor="start" font-weight="normal" stroke="#f23645" stroke-width="0.2" textLength="50.4" lengthAdjust="spacingAndGlyphs">2641.01</text>
<text x="596.7" y="37.5" font-family="Liberation Sans, sans-serif" font-size="15" fill="#f23645" text-anchor="start" font-weight="normal" stroke="#f23645" stroke-width="0.2" textLength="35.3" lengthAdjust="spacingAndGlyphs">−1.32</text>
<text x="638.5" y="37.5" font-family="Liberation Sans, sans-serif" font-size="15" fill="#f23645" text-anchor="start" font-weight="normal" stroke="#f23645" stroke-width="0.2" textLength="55.5" lengthAdjust="spacingAndGlyphs">(−0.05%)</text>
<text x="23" y="58" font-family="Liberation Sans, sans-serif" font-size="15" fill="#131722" text-anchor="start" font-weight="normal" stroke="#131722" stroke-width="0.2" textLength="112" lengthAdjust="spacingAndGlyphs">MA (20, close, 0)</text>
<text x="23" y="79.2" font-family="Liberation Sans, sans-serif" font-size="15" fill="#131722" text-anchor="start" font-weight="normal" stroke="#131722" stroke-width="0.2" textLength="120" lengthAdjust="spacingAndGlyphs">MA (100, close, 0)</text>
<text x="23" y="100.2" font-family="Liberation Sans, sans-serif" font-size="15" fill="#131722" text-anchor="start" font-weight="normal" stroke="#131722" stroke-width="0.2" textLength="120" lengthAdjust="spacingAndGlyphs">MA (200, close, 0)</text>
<text x="23" y="362" font-family="Liberation Sans, sans-serif" font-size="15" fill="#131722" text-anchor="start" font-weight="normal" stroke="#131722" stroke-width="0.2" textLength="106" lengthAdjust="spacingAndGlyphs">Mom (10, close)</text>
<text x="139.5" y="362" font-family="Liberation Sans, sans-serif" font-size="15" fill="#2196f3" text-anchor="start" font-weight="normal" stroke="#2196f3" stroke-width="0.2" textLength="43.5" lengthAdjust="spacingAndGlyphs">−19.09</text>
<text x="23" y="475" font-family="Liberation Sans, sans-serif" font-size="15" fill="#131722" text-anchor="start" font-weight="normal" stroke="#131722" stroke-width="0.2" textLength="50" lengthAdjust="spacingAndGlyphs">RSI (14)</text>
<text x="83.5" y="475" font-family="Liberation Sans, sans-serif" font-size="15" fill="#7e57c2" text-anchor="start" font-weight="normal" stroke="#7e57c2" stroke-width="0.2" textLength="36.5" lengthAdjust="spacingAndGlyphs">48.09</text>
<g fill="#131722"><path d="M13.1,646 H22.6 V657.6 H18 V650 H13.1 Z"/><circle cx="26.8" cy="648.4" r="2.45"/><path d="M32.1,646 H37.2 L32.8,657.6 H27.1 Z"/></g>
<text x="41.6" y="657.8" font-family="Liberation Sans, sans-serif" font-size="15" fill="#131722" text-anchor="start" font-weight="normal" stroke="#131722" stroke-width="0.2" textLength="88" lengthAdjust="spacingAndGlyphs">TradingView</text>
</svg></body></html>
